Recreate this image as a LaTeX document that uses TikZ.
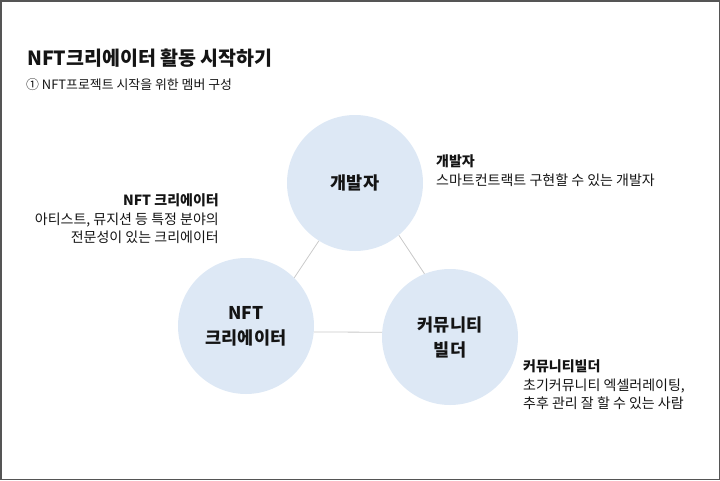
\documentclass[tikz,border=0pt]{standalone}
\usepackage{fontspec}
\setmainfont{Noto Sans CJK KR}
\usepackage{xcolor}
\usepackage{tikz}
\definecolor{memberBlue}{RGB}{221,232,245}
\definecolor{linkGray}{RGB}{200,200,200}
\definecolor{frameGray}{RGB}{85,85,85}
\definecolor{txtDark}{RGB}{20,20,20}

\begin{document}
\begin{tikzpicture}[x=1pt,y=-1pt,
  member/.style={circle, fill=memberBlue, minimum size=136pt, inner sep=0pt, align=center,
    text=txtDark, font=\bfseries\fontsize{17.5}{25}\selectfont},
  note/.style={inner sep=0pt, text=txtDark, font=\fontsize{14}{18.8}\selectfont},
  link/.style={linkGray, line width=0.8pt}]
\useasboundingbox (0,0) rectangle (720,480);
\draw[frameGray, line width=1.5pt] (0.75,0.75) rectangle (719.25,479.25);
% heading
\node[anchor=base west, inner sep=0pt, text=txtDark, font=\bfseries\fontsize{19.5}{22}\selectfont] (title) at (27,65.5) {NFT크리에이터 활동 시작하기};
\node[anchor=base west, inner sep=0pt, text=txtDark, font=\fontsize{12.9}{15}\selectfont] (subtitle) at (26,89.5) {① NFT프로젝트 시작을 위한 멤버 구성};
% members
\node[member] (dev) at (355,183) {개발자};
\node[member] (nft) at (246,326) {NFT\\크리에이터};
\node[member] (comm) at (450,337) {커뮤니티\\빌더};
\draw[link] (dev.238) -- (nft.45);
\draw[link] (dev.310) -- (comm.112);
\draw[link] (nft.-5) -- (comm.176);
% notes
\node[note, anchor=north west, align=left] (devnote) at (436,154.3) {{\bfseries 개발자}\\스마트컨트랙트 구현할 수 있는 개발자};
\node[note, anchor=north east, align=right] (nftnote) at (219,193.3) {{\bfseries NFT 크리에이터}\\아티스트, 뮤지션 등 특정 분야의\\전문성이 있는 크리에이터};
\node[note, anchor=north west, align=left] (commnote) at (523,359.3) {{\bfseries 커뮤니티빌더}\\초기커뮤니티 엑셀러레이팅,\\추후 관리 잘 할 수 있는 사람};
\end{tikzpicture}
\end{document}
